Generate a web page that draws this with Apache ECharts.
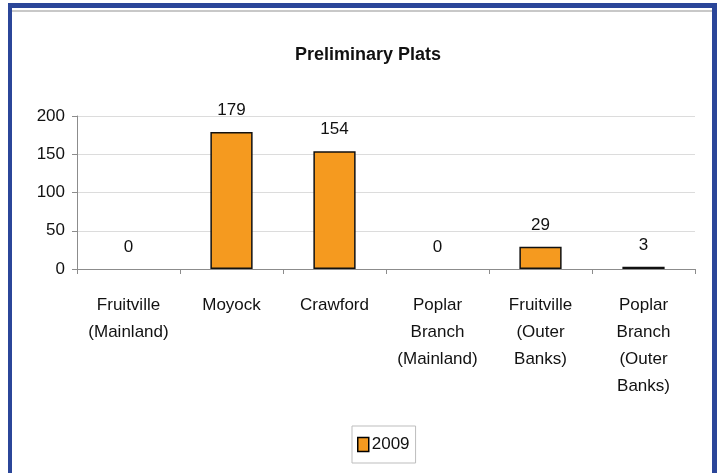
<!DOCTYPE html>
<html>
<head>
<meta charset="utf-8">
<script src="https://cdn.jsdelivr.net/npm/echarts@6/dist/echarts.min.js"></script>
<style>
html,body{margin:0;padding:0;background:#fff;}
#chart{width:717px;height:473px;}
</style>
</head>
<body>
<div id="chart"></div>
<script>
const categories = ["Fruitville\n(Mainland)", "Moyock", "Crawford", "Poplar\nBranch\n(Mainland)", "Fruitville\n(Outer\nBanks)", "Poplar\nBranch\n(Outer\nBanks)"];
const values2009 = [0, 179, 154, 0, 29, 3];
const seriesName = "2009";
const titleText = "Preliminary Plats";

const FONT = '"Liberation Sans Narrow", "Arial Narrow", "Liberation Sans", Arial, sans-serif';
const barData = values2009.map(v => v === 0 ? {value: v, itemStyle: {borderWidth: 0}} : v);
const chart = echarts.init(document.getElementById('chart'), null, {renderer: 'canvas'});
chart.setOption({
  backgroundColor: '#ffffff',
  animation: false,
  title: {
    text: titleText,
    left: 363, top: 41, textAlign: 'center',
    textStyle: {fontFamily: FONT, fontSize: 18, fontWeight: 'bold', color: '#111'}
  },
  graphic: [
    {type: 'rect', shape: {x: 8, y: 3, width: 4, height: 480}, style: {fill: '#2b4699'}},
    {type: 'rect', shape: {x: 8, y: 3, width: 709, height: 5}, style: {fill: '#2b4699'}},
    {type: 'rect', shape: {x: 712, y: 3, width: 5, height: 480}, style: {fill: '#2b4699'}},
    {type: 'rect', shape: {x: 12, y: 10, width: 700, height: 2}, style: {fill: '#c8c8c8'}}
  ],
  legend: {
    data: [seriesName],
    left: 352, top: 426,
    padding: [10, 6, 10, 5],
    itemWidth: 11, itemHeight: 14, itemGap: 5,
    icon: 'rect',
    borderColor: '#bdbdbd', borderWidth: 1,
    itemStyle: {borderColor: '#000', borderWidth: 1.5},
    textStyle: {fontFamily: FONT, fontSize: 17, color: '#111', padding: [0, 0, 0, -2]}
  },
  grid: {left: 77, right: 22, top: 116, bottom: 204},
  xAxis: {
    type: 'category',
    data: categories,
    axisLine: {lineStyle: {color: '#8c8c8c'}},
    axisTick: {show: true, length: 5, lineStyle: {color: '#8c8c8c'}},
    axisLabel: {fontFamily: FONT, fontSize: 17, color: '#111', lineHeight: 27, margin: 23, interval: 0}
  },
  yAxis: {
    type: 'value', min: 0, max: 200, interval: 50,
    axisLine: {show: true, lineStyle: {color: '#8c8c8c'}},
    axisTick: {show: true, length: 5, lineStyle: {color: '#8c8c8c'}},
    splitLine: {lineStyle: {color: '#dcdcdc'}},
    axisLabel: {fontFamily: FONT, fontSize: 17, color: '#111', margin: 12}
  },
  series: [{
    name: seriesName,
    type: 'bar',
    data: barData,
    barWidth: '41%',
    itemStyle: {color: '#f59a1f', borderColor: '#111', borderWidth: 1.5},
    label: {show: true, position: 'top', distance: 13, fontFamily: FONT, fontSize: 17, color: '#111'}
  }]
});
</script>
</body>
</html>
